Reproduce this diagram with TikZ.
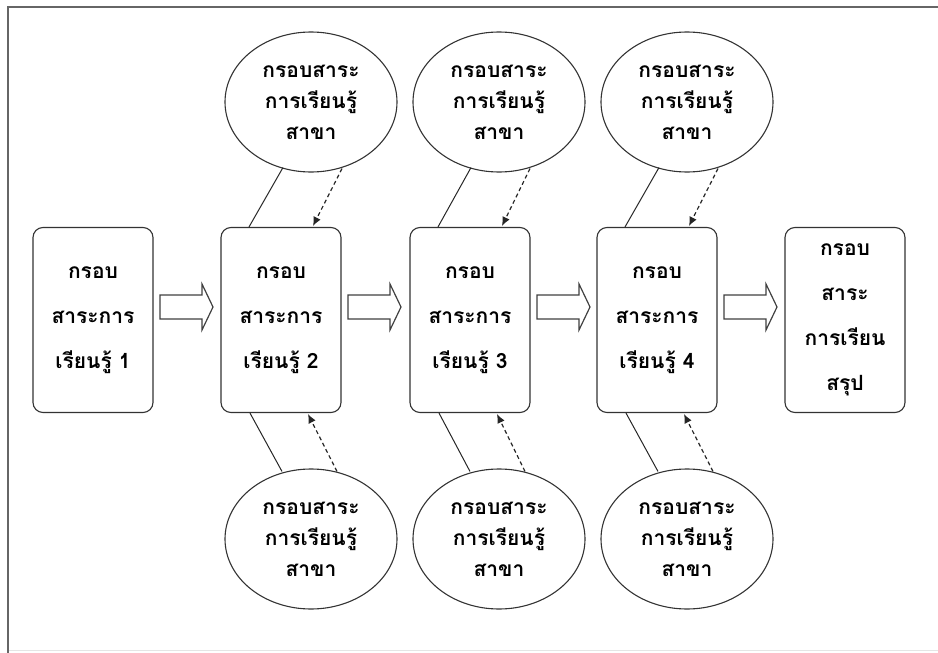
\documentclass[tikz,border=0pt]{standalone}
\usepackage{fontspec}
\newfontfamily\thaifont[Script=Thai]{Loma}
\usetikzlibrary{shapes.geometric,arrows.meta,calc}
\begin{document}
\begin{tikzpicture}[x=1pt,y=-1pt,
  frame/.style={draw=black!60,line width=1.8pt},
  stagebox/.style={draw=black!80,line width=1.1pt,rounded corners=10pt,
    minimum width=120pt,minimum height=185pt,inner sep=0pt,align=center,
    font=\thaifont\bfseries\fontsize{21}{45}\selectfont},
  branch/.style={ellipse,draw=black!80,line width=1.1pt,minimum width=172pt,
    minimum height=140pt,inner sep=0pt,align=center,
    font=\thaifont\bfseries\fontsize{21}{31}\selectfont},
  link/.style={draw=black!85,line width=1pt},
  feed/.style={draw=black!85,line width=1.2pt,dash pattern=on 4pt off 3pt,
    -{Latex[length=9pt,width=8pt]}},
  flow/.style={draw=black!75,line width=1.2pt,fill=white,line join=miter},
  fatarrow/.pic={\path[flow] (0,-12) -- (42,-12) -- (42,-23) -- (53,0)
    -- (42,23) -- (42,12) -- (0,12) -- cycle;}
]
\useasboundingbox (0,0) rectangle (938,653);
% page frame
\draw[black!10,line width=1pt] (8,650) -- (938,650);
\draw[frame] (8,653) -- (8,7) -- (938,7);

% main stages
\node[stagebox] (s1) at (93,320) {กรอบ\\สาระการ\\เรียนรู้ 1};
\node[stagebox] (s2) at (281,320) {กรอบ\\สาระการ\\เรียนรู้ 2};
\node[stagebox] (s3) at (470,320) {กรอบ\\สาระการ\\เรียนรู้ 3};
\node[stagebox] (s4) at (657,320) {กรอบ\\สาระการ\\เรียนรู้ 4};
\node[stagebox] (s5) at (845,320) {กรอบ\\สาระ\\การเรียน\\สรุป};

% block arrows between stages
\foreach \x in {160,348,537,724} \pic at (\x,307) {fatarrow};

% subject frameworks above and below
\foreach \i/\x in {2/311,3/499,4/687}{
  \node[branch] (t\i) at (\x,102) {กรอบสาระ\\การเรียนรู้\\สาขา};
  \node[branch] (b\i) at (\x,539) {กรอบสาระ\\การเรียนรู้\\สาขา};
}

\foreach \i in {2,3,4}{
  \draw[link] ($(t\i.south)+(-28,-5)$) -- ($(s\i.north)+(-32,0)$);
  \draw[feed] ($(t\i.south)+(31,-4)$) -- ($(s\i.north)+(32,-1)$);
  \draw[link] ($(s\i.south)+(-31,0)$) -- ($(b\i.north)+(-29,3)$);
  \draw[feed] ($(b\i.north)+(26,3)$) -- ($(s\i.south)+(27,1)$);
}
\end{tikzpicture}
\end{document}
